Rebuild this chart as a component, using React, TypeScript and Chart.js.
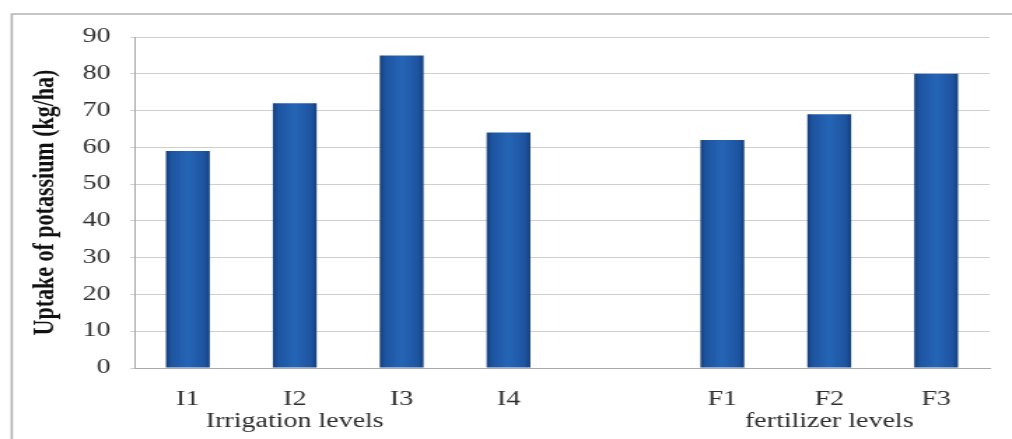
import React, { useEffect, useRef } from 'react';
import { Chart, registerables } from 'chart.js';

Chart.register(...registerables);

// Categories along the x axis (an empty slot separates the two groups)
const categories = ['I1', 'I2', 'I3', 'I4', '', 'F1', 'F2', 'F3'];
// Group captions shown on a second row under the category labels
const groupLabels = ['', 'Irrigation levels', '', '', '', '', 'fertilizer levels', ''];
// Potassium uptake (kg/ha)
const uptake: (number | null)[] = [59, 72, 85, 64, null, 62, 69, 80];
// Value axis range
const yMin = 0;
const yMax = 90;
const yStep = 10;
const yTitle = 'Uptake of potassium (kg/ha)';

// The chart is laid out on a narrower canvas and widened with CSS,
// which gives the wide serif lettering of the printed figure.
const W = 1012;
const H = 439;
const STRETCH = 1.4;
const LW = Math.round(W / STRETCH);
const BAR_PCT = 0.41;

const serif = '"Liberation Serif", "Times New Roman", Times, serif';

function barFill(c: any) {
  const ch = c.chart;
  const xs = ch.scales?.x;
  if (!xs || c.dataIndex === undefined) return '#2260b0';
  const cx = xs.getPixelForValue(c.dataIndex);
  const half = (xs.width / categories.length) * BAR_PCT / 2;
  if (!Number.isFinite(cx) || !Number.isFinite(half) || half <= 0) return '#2260b0';
  const g = ch.ctx.createLinearGradient(cx - half, 0, cx + half, 0);
  g.addColorStop(0, '#163f7a');
  g.addColorStop(0.12, '#1d54a0');
  g.addColorStop(0.5, '#2565b6');
  g.addColorStop(0.88, '#1d54a0');
  g.addColorStop(1, '#163f7a');
  return g;
}

// Thin outer frame along the left and top of the figure
const framePlugin = {
  id: 'figureFrame',
  beforeDraw(chart: any) {
    const { ctx, width, height } = chart;
    ctx.save();
    ctx.strokeStyle = '#b2b2b2';
    ctx.lineWidth = 1.6;
    ctx.beginPath();
    ctx.moveTo(8.4, height);
    ctx.lineTo(8.4, 14);
    ctx.lineTo(width, 14);
    ctx.stroke();
    ctx.restore();
  },
};

export default function App() {
  const ref = useRef<HTMLCanvasElement | null>(null);

  useEffect(() => {
    const canvas = ref.current;
    if (!canvas) return;
    const chart = new Chart(canvas, {
      type: 'bar',
      data: {
        labels: categories,
        datasets: [
          {
            data: uptake,
            barPercentage: BAR_PCT,
            categoryPercentage: 1,
            borderWidth: 0,
            backgroundColor: barFill,
          },
        ],
      },
      plugins: [framePlugin],
      options: {
        responsive: false,
        devicePixelRatio: 1,
        animation: false,
        layout: { padding: { left: 0, right: 16, top: 37, bottom: 0 } },
        plugins: {
          legend: { display: false },
          tooltip: { enabled: false },
        },
        scales: {
          x: {
            type: 'category',
            position: 'bottom',
            weight: 0,
            offset: true,
            grid: { display: false, drawTicks: false },
            border: { display: true, color: '#a8a8a8', width: 1 },
            ticks: {
              padding: 20,
              autoSkip: false,
              maxRotation: 0,
              color: '#2e2e2e',
              font: { family: serif, size: 20 },
            },
            afterFit: (s: any) => {
              s.height = 39;
            },
          },
          x2: {
            type: 'category',
            axis: 'x',
            position: 'bottom',
            weight: 1,
            labels: groupLabels,
            offset: true,
            grid: { display: false, drawTicks: false },
            border: { display: false },
            ticks: {
              padding: 3,
              autoSkip: false,
              maxRotation: 0,
              color: '#2e2e2e',
              font: { family: serif, size: 20 },
            },
            afterFit: (s: any) => {
              s.height = 32;
            },
          },
          y: {
            min: yMin,
            max: yMax,
            ticks: {
              stepSize: yStep,
              padding: 14,
              color: '#2e2e2e',
              font: { family: serif, size: 20 },
            },
            grid: { color: '#cfcfcf', lineWidth: 1, tickLength: 3 },
            border: { display: true, color: '#a8a8a8', width: 1 },
            title: {
              display: true,
              text: yTitle,
              color: '#111111',
              font: { family: serif, size: 22, weight: 'bold' },
              padding: { top: 19, bottom: 0 },
            },
            afterFit: (s: any) => {
              s.width = 96;
            },
          },
        },
      } as any,
    });
    chart.update();
    return () => chart.destroy();
  }, []);

  return (
    <div
      style={{
        position: 'fixed',
        left: 0,
        top: 0,
        width: W,
        height: H,
        background: '#ffffff',
        overflow: 'hidden',
      }}
    >
      <canvas
        ref={ref}
        width={LW}
        height={H}
        style={{ display: 'block', width: W, height: H }}
      />
    </div>
  );
}
